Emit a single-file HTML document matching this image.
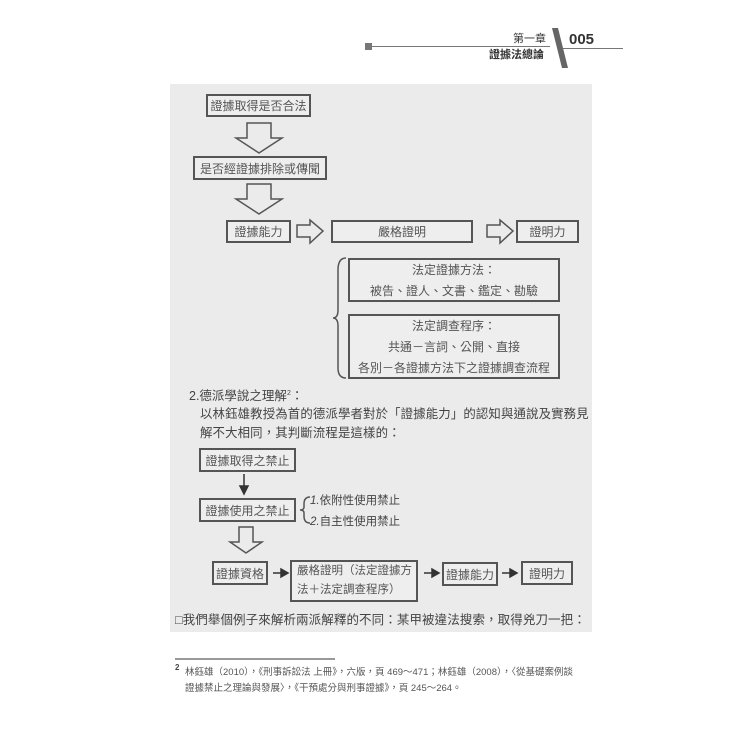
<!DOCTYPE html>
<html><head><meta charset="utf-8"><style>
body{margin:0;width:750px;height:750px;background:#fff;position:relative;overflow:hidden;font-family:"Liberation Sans","Noto Sans CJK TC",sans-serif;color:#333}
.a{position:absolute;white-space:nowrap}
.b{position:absolute;border:2px solid #555;box-sizing:border-box;display:flex;align-items:center;justify-content:center;font-size:12px;color:#555;background:#eee}
.t{position:absolute;white-space:nowrap;font-size:12px;color:#444}
</style></head><body>
<div class="a" style="left:365px;top:43px;width:7px;height:7px;background:#777"></div>
<div class="a" style="left:372px;top:46px;width:178px;height:1px;background:#777"></div>
<div class="a" style="left:563px;top:48px;width:60px;height:1px;background:#777"></div>
<div class="t" style="left:513px;top:30px;font-size:11px;color:#333">第一章</div>
<div class="t" style="left:489px;top:46px;font-size:11px;color:#333;font-weight:bold">證據法總論</div>
<svg class="a" style="left:550px;top:28px" width="20" height="40"><polygon points="2,0 8,0 18,40 12,40" fill="#666"/></svg>
<div class="t" style="left:569px;top:31px;font-size:15px;font-weight:bold;color:#333">005</div>
<div class="a" style="left:170px;top:84px;width:422px;height:548px;background:#ebebeb"></div>

<div class="b" style="left:206px;top:94px;width:105px;height:23px">證據取得是否合法</div>
<div class="b" style="left:193px;top:156px;width:134px;height:24px">是否經證據排除或傳聞</div>
<div class="b" style="left:226px;top:220px;width:65px;height:23px">證據能力</div>
<div class="b" style="left:331px;top:220px;width:142px;height:23px">嚴格證明</div>
<div class="b" style="left:516px;top:220px;width:63px;height:23px">證明力</div>
<svg class="a" style="left:0;top:0" width="750" height="750">
 <g fill="none" stroke="#555" stroke-width="1.5">
  <polygon points="247,123 271,123 271,138 282,138 259,153 236,138 247,138"/>
  <polygon points="247,184 271,184 271,199 282,199 259,214 236,199 247,199"/>
  <polygon points="297,225 310,225 310,220 323,231 310,243 310,237 297,237"/>
  <polygon points="487,225 500,225 500,220 513,231 500,243 500,237 487,237"/>
  <path d="M346,258 Q338,258 338,270 L338,310 Q338,318 333,318 Q338,318 338,326 L338,368 Q338,378 346,378"/>
  <polygon points="239,527 253,527 253,542 262,542 246,553 230,542 239,542"/>
  <path d="M310,497 Q304,497 304,504 L304,507 Q304,510 300,510 Q304,510 304,513 L304,516 Q304,523 310,523"/>
 </g>
 <g stroke="#333" stroke-width="1.5" fill="#333">
  <line x1="244" y1="474" x2="244" y2="488"/><polygon points="240,486 248,486 244,494"/>
  <line x1="273" y1="573" x2="282" y2="573"/><polygon points="281,569 288,573 281,577"/>
  <line x1="424" y1="573" x2="433" y2="573"/><polygon points="432,569 439,573 432,577"/>
  <line x1="502" y1="573" x2="511" y2="573"/><polygon points="510,569 517,573 510,577"/>
 </g>
 <line x1="175" y1="659" x2="335" y2="659" stroke="#333" stroke-width="1"/>
</svg>
<div class="b" style="left:348px;top:258px;width:212px;height:44px;display:block;text-align:center;line-height:21px">法定證據方法：<br>被告、證人、文書、鑑定、勘驗</div>
<div class="b" style="left:348px;top:314px;width:212px;height:65px;display:block;text-align:center;line-height:21px">法定調查程序：<br>共通－言詞、公開、直接<br>各別－各證據方法下之證據調查流程</div>

<div class="t" style="left:189px;top:385px;font-size:12.5px">2.德派學說之理解<sup style="font-size:7px">2</sup>：</div>
<div class="t" style="left:200px;top:404px;font-size:12.4px;letter-spacing:0.15px">以林鈺雄教授為首的德派學者對於「證據能力」的認知與通說及實務見</div>
<div class="t" style="left:200px;top:423px;font-size:12.4px;letter-spacing:0.15px">解不大相同，其判斷流程是這樣的：</div>

<div class="b" style="left:199px;top:448px;width:97px;height:24px">證據取得之禁止</div>
<div class="b" style="left:199px;top:498px;width:97px;height:24px">證據使用之禁止</div>
<div class="t" style="left:310px;top:492px;font-size:11.5px"><i>1.</i>依附性使用禁止</div>
<div class="t" style="left:310px;top:513px;font-size:11.5px"><i>2.</i>自主性使用禁止</div>
<div class="b" style="left:212px;top:561px;width:56px;height:24px">證據資格</div>
<div class="b" style="left:290px;top:560px;width:128px;height:42px;display:block;text-align:left;padding-left:5px;line-height:19px;font-size:11.5px">嚴格證明（法定證據方<br>法＋法定調查程序）</div>
<div class="b" style="left:442px;top:562px;width:56px;height:24px">證據能力</div>
<div class="b" style="left:521px;top:561px;width:52px;height:24px">證明力</div>
<div class="t" style="left:175px;top:609px;font-size:12.5px;letter-spacing:0.1px">□我們舉個例子來解析兩派解釋的不同：某甲被違法搜索，取得兇刀一把：</div>

<div class="t" style="left:175px;top:663px;font-size:8px;font-weight:bold">2</div>
<div class="t" style="left:185px;top:664px;font-size:9.5px;color:#555">林鈺雄（2010），《刑事訴訟法 上冊》，六版，頁 469～471；林鈺雄（2008），〈從基礎案例談</div>
<div class="t" style="left:185px;top:680px;font-size:9.5px;color:#555">證據禁止之理論與發展〉，《干預處分與刑事證據》，頁 245～264。</div>
</body></html>
